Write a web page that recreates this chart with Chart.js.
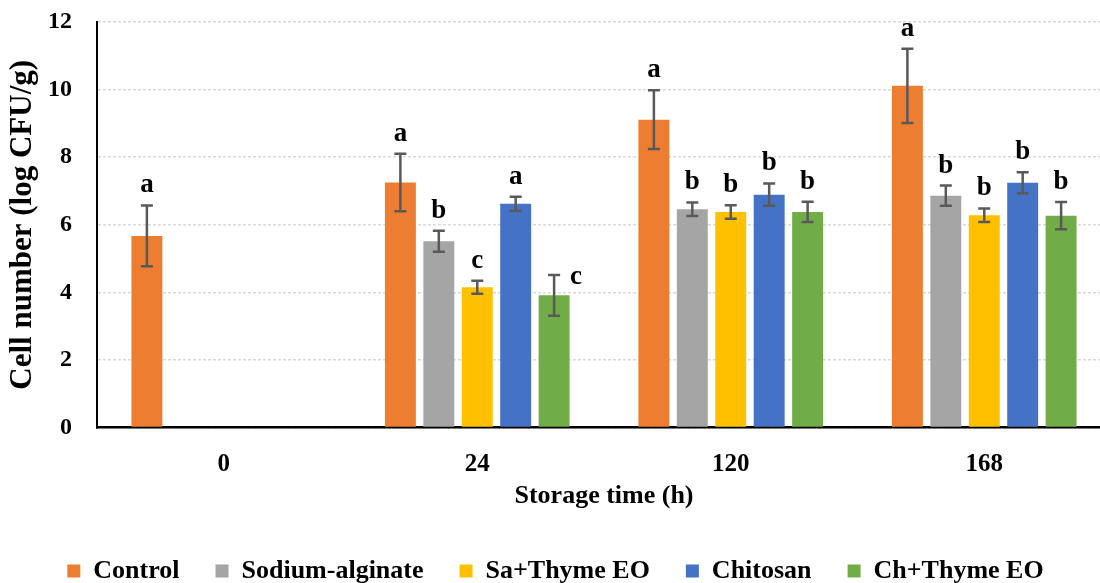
<!DOCTYPE html>
<html>
<head>
<meta charset="utf-8">
<script src="https://cdn.jsdelivr.net/npm/chart.js@4.4.1/dist/chart.umd.min.js"></script>
<style>
  html, body { margin: 0; padding: 0; background: #fff; overflow: hidden; }
  #wrap { width: 1100px; height: 583px; overflow: hidden; }
</style>
</head>
<body>
<div id="wrap"><canvas id="chart" width="1112" height="583"></canvas></div>
<script>
const horas = ["0", "24", "120", "168"];

const controle = [5.67, 7.25, 9.11, 10.11];
const alginato = [null, 5.51, 6.46, 6.86];
const saTimo = [null, 4.15, 6.38, 6.28];
const quitosana = [null, 6.62, 6.89, 7.24];
const chTimo = [null, 3.91, 6.38, 6.27];

const erroControle = [0.9, 0.85, 0.87, 1.1];
const erroAlginato = [0, 0.31, 0.2, 0.3];
const erroSaTimo = [0, 0.19, 0.2, 0.2];
const erroQuitosana = [0, 0.21, 0.33, 0.31];
const erroChTimo = [0, 0.6, 0.3, 0.4];

const letrasControle = ["a", "a", "a", "a"];
const letrasAlginato = ["", "b", "b", "b"];
const letrasSaTimo = ["", "c", "b", "b"];
const letrasQuitosana = ["", "a", "b", "b"];
const letrasChTimo = ["", "c", "b", "b"];

const fonte = "'Liberation Serif', 'Times New Roman', serif";

// letra do Ch+Thyme EO em 24h fica ao lado da barra de erro
const deslocLetra = { "4-1": [22, 22] };

const errorBars = {
  id: "errorBars",
  afterDatasetsDraw(chart) {
    const ctx = chart.ctx;
    const y = chart.scales.y;
    chart.data.datasets.forEach((ds, di) => {
      const meta = chart.getDatasetMeta(di);
      meta.data.forEach((bar, i) => {
        const v = ds.data[i];
        if (v === null) return;
        const e = ds.erros[i];
        const topo = y.getPixelForValue(v + e);
        const base = y.getPixelForValue(v - e);
        ctx.save();
        ctx.strokeStyle = "#595959";
        ctx.lineWidth = 2.5;
        ctx.beginPath();
        ctx.moveTo(bar.x, topo);
        ctx.lineTo(bar.x, base);
        ctx.moveTo(bar.x - 6, topo);
        ctx.lineTo(bar.x + 6, topo);
        ctx.moveTo(bar.x - 6, base);
        ctx.lineTo(bar.x + 6, base);
        ctx.stroke();

        const letra = ds.letras[i];
        if (letra) {
          const d = deslocLetra[di + "-" + i] || [0, 0];
          ctx.fillStyle = "#000";
          ctx.font = "bold 27px " + fonte;
          ctx.textAlign = "center";
          ctx.textBaseline = "middle";
          ctx.fillText(letra, bar.x + d[0], topo - 20 + d[1]);
        }
        ctx.restore();
      });
    });
  }
};

function serie(label, data, erros, letras, cor) {
  return {
    label,
    data,
    erros,
    letras,
    backgroundColor: cor,
    categoryPercentage: 0.758,
    barPercentage: 0.805
  };
}

new Chart(document.getElementById("chart"), {
  type: "bar",
  data: {
    labels: horas,
    datasets: [
      serie("Control", controle, erroControle, letrasControle, "#ED7D31"),
      serie("Sodium-alginate", alginato, erroAlginato, letrasAlginato, "#A5A5A5"),
      serie("Sa+Thyme EO", saTimo, erroSaTimo, letrasSaTimo, "#FFC000"),
      serie("Chitosan", quitosana, erroQuitosana, letrasQuitosana, "#4472C4"),
      serie("Ch+Thyme EO", chTimo, erroChTimo, letrasChTimo, "#70AD47")
    ]
  },
  options: {
    responsive: false,
    animation: false,
    layout: {
      padding: { top: 22, left: 0, right: 1, bottom: -11 }
    },
    plugins: {
      tooltip: { enabled: false },
      legend: {
        position: "bottom",
        labels: {
          color: "#000",
          boxWidth: 13,
          boxHeight: 13,
          padding: 36,
          font: { family: fonte, size: 26, weight: "bold" }
        }
      }
    },
    scales: {
      x: {
        afterFit(scale) {
          scale.height = 94.5;
        },
        grid: { display: false },
        border: { display: true, color: "#000", width: 2.5 },
        ticks: {
          color: "#000",
          padding: 14.5,
          font: { family: fonte, size: 25, weight: "bold" }
        },
        title: {
          display: true,
          text: "Storage time (h)",
          color: "#000",
          padding: { top: 0, bottom: 10 },
          font: { family: fonte, size: 26, weight: "bold" }
        }
      },
      y: {
        min: 0,
        max: 12,
        afterFit(scale) {
          scale.width = 97;
          scale.paddingTop = 0;
          scale.paddingBottom = 0;
        },
        grid: {
          color: "#d9d9d9",
          lineWidth: 1.5,
          drawTicks: false
        },
        border: { display: true, color: "#000", width: 2, dash: [3, 2] },
        ticks: {
          stepSize: 2,
          color: "#000",
          padding: 25,
          font: { family: fonte, size: 24, weight: "bold" }
        },
        title: {
          display: true,
          text: "Cell number (log CFU/g)",
          color: "#000",
          padding: { top: 4, bottom: 0 },
          font: { family: fonte, size: 31, weight: "bold" }
        }
      }
    }
  },
  plugins: [errorBars]
});
</script>
</body>
</html>
